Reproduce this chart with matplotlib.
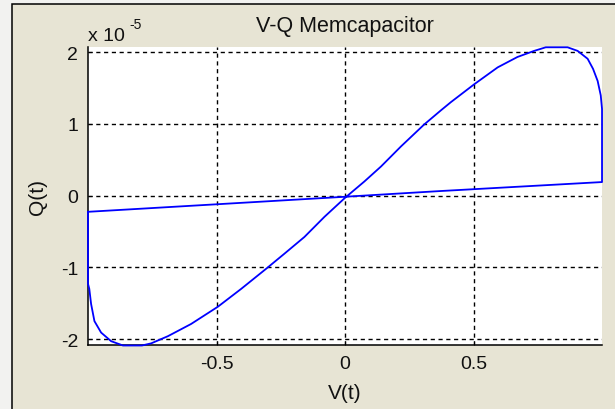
import matplotlib
matplotlib.use("Agg")
import matplotlib.pyplot as plt
from matplotlib.patches import Rectangle
from matplotlib.ticker import FuncFormatter
import numpy as np

plt.rcParams['font.family'] = ['Liberation Sans', 'DejaVu Sans']

# Hysteresis loop (V in volts, Q in units of 1e-5 C)
v_points = [-1.000, -0.404, 0.000, 0.373, 1.000,
            1.000, 0.995, 0.983, 0.965, 0.944, 0.905, 0.866, 0.781, 0.736,
            0.671, 0.594, 0.503, 0.412, 0.373, 0.308, 0.218, 0.140, 0.075,
            0.000, -0.080, -0.158, -0.236, -0.307, -0.404, -0.495, -0.599,
            -0.689, -0.754, -0.790, -0.864, -0.910, -0.949, -0.975, -0.988,
            -0.995, -1.000, -1.000]
q_points = [-0.225, -0.100, -0.015, 0.065, 0.190,
            1.210, 1.400, 1.600, 1.770, 1.910, 2.020, 2.070, 2.070, 2.020,
            1.935, 1.790, 1.555, 1.305, 1.190, 0.993, 0.688, 0.407, 0.197,
            -0.030, -0.295, -0.576, -0.810, -1.020, -1.300, -1.550, -1.790,
            -1.960, -2.060, -2.090, -2.090, -2.030, -1.910, -1.750, -1.510,
            -1.300, -1.230, -0.225]
q_scale = 1e-5
x_ticks = [-0.5, 0, 0.5]
y_ticks = [-2, -1, 0, 1, 2]
title = "V-Q Memcapacitor"
x_label = "V(t)"
y_label = "Q(t)"

v = np.array(v_points)
q = np.array(q_points) * q_scale

fig = plt.figure(figsize=(6.15, 4.1), dpi=100)
fig.patch.set_facecolor('#F2F2F0')
frame = Rectangle((0.019, -0.05), 1.05, 0.05 + 0.988, transform=fig.transFigure,
                  facecolor='#E7E4D4', edgecolor='black', lw=1.1, zorder=0)
fig.add_artist(frame)

ax = fig.add_axes([0.1431, 0.1549, 0.8358, 0.7273])
ax.set_facecolor('white')
ax.plot(v, q, color='#0000FF', lw=1.3, clip_on=False, zorder=3)

ax.set_xlim(-1, 1)
ax.set_ylim(q.min(), q.max())
ax.set_xticks(x_ticks)
ax.set_yticks([t * q_scale for t in y_ticks])
ax.xaxis.set_major_formatter(FuncFormatter(lambda x, p: f"{x:g}"))
ax.yaxis.set_major_formatter(FuncFormatter(lambda y, p: f"{round(y / q_scale):d}"))

ax.grid(True, color='black', linestyle=(0, (3.0, 2.6)), lw=1.0)
for s in ['top', 'right']:
    ax.spines[s].set_visible(False)
for s in ['left', 'bottom']:
    ax.spines[s].set_color('black')
    ax.spines[s].set_linewidth(1.1)
ax.tick_params(direction='in', length=3, width=0.8, colors='black',
               labelsize=14, pad=7, labelcolor='#111111')

ax.set_title(title, fontsize=15.5, pad=11.5, color='#111111')
ax.set_xlabel(x_label, fontsize=15, color='#111111')
ax.xaxis.set_label_coords(0.5, -0.125)
ax.set_ylabel(y_label, fontsize=15, color='#111111')
ax.yaxis.set_label_coords(-0.08, 0.5)

fig.text(88 / 615, 1 - 41 / 410, "x 10", fontsize=14, ha='left', va='baseline', color='#111111')
fig.text(129 / 615, 1 - 29 / 410, "-5", fontsize=10, ha='left', va='baseline', color='#111111')

fig.savefig('out.png', dpi=100)
